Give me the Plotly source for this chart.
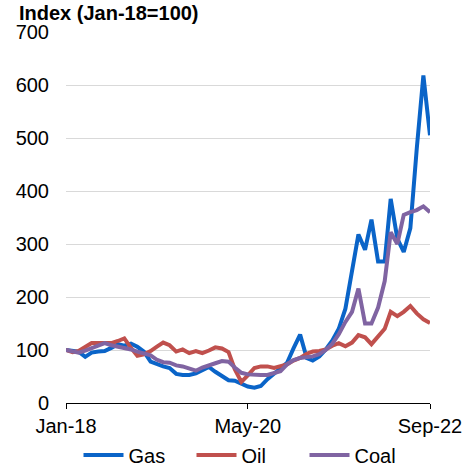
import pandas as pd
import plotly.graph_objects as go

months = pd.date_range("2018-01-01", "2022-09-01", freq="MS")

gas = [100, 98, 97, 87, 95, 97, 98, 104, 111, 108, 112, 106, 97, 78, 73, 69, 66, 55,
       53, 53, 56, 62, 68, 59, 51, 43, 42, 36, 31, 29, 32, 45, 56, 67, 76, 103, 129,
       85, 80, 88, 101, 118, 140, 178, 255, 318, 289, 346, 267, 267, 385, 310, 285,
       330, 480, 618, 505]
oil = [100, 96, 98, 106, 113, 113, 113, 113, 117, 122, 104, 89, 92, 98, 106, 114, 109,
       97, 101, 94, 98, 94, 99, 105, 103, 96, 64, 40, 52, 66, 69, 69, 66, 69, 73, 80,
       85, 93, 97, 98, 101, 108, 113, 107, 114, 128, 124, 111, 127, 140, 172, 164, 172,
       183, 169, 158, 151]
coal = [100, 97, 95, 99, 104, 109, 113, 109, 106, 105, 101, 97, 94, 90, 82, 77, 76, 71,
        69, 64, 61, 67, 72, 75, 79, 78, 67, 57, 54, 53, 53, 53, 56, 60, 73, 81, 85, 87,
        88, 92, 100, 112, 130, 153, 172, 216, 150, 150, 180, 230, 322, 300, 355, 360,
        364, 371, 360]

series_names = ["Gas", "Oil", "Coal"]
series_colors = ["#0A64C8", "#C0504D", "#8064A2"]
tick_dates = ["2018-01-01", "2020-05-01", "2022-09-01"]
tick_labels = ["Jan-18", "May-20", "Sep-22"]
y_ticks = [0, 100, 200, 300, 400, 500, 600, 700]

fig = go.Figure()
for name, vals, col in zip(series_names, [gas, oil, coal], series_colors):
    fig.add_trace(go.Scatter(x=months, y=vals, mode="lines", name=name,
                             line=dict(color=col, width=4)))

font_family = "Liberation Sans, Arial, sans-serif"
fig.update_layout(
    width=465, height=468,
    margin=dict(l=66, r=35, t=32, b=65),
    paper_bgcolor="white", plot_bgcolor="white",
    font=dict(family=font_family, size=20, color="black"),
    showlegend=True,
    legend=dict(orientation="h", x=0.5, xanchor="center", xref="paper",
                yref="container", y=13/468, yanchor="middle",
                font=dict(size=20), itemwidth=40, entrywidth=58, entrywidthmode="pixels",
                bgcolor="rgba(0,0,0,0)", borderwidth=0, tracegroupgap=0),
    xaxis=dict(range=[months[0], months[-1]], tickvals=tick_dates, ticktext=tick_labels,
               showgrid=False, showline=True, linecolor="black", linewidth=1.2,
               ticks="outside", ticklen=5, tickcolor="black", tickwidth=1.2,
               tickfont=dict(size=20), zeroline=False, automargin=False),
    yaxis=dict(range=[0, 700], tickvals=y_ticks, showgrid=True, gridcolor="#D9D9D9",
               gridwidth=1, zeroline=False, showline=False, ticks="",
               tickfont=dict(size=20), ticklabelstandoff=16, automargin=False),
    annotations=[dict(text="<b>Index (Jan-18=100)</b>", xref="paper", yref="paper",
                      x=-49/364, y=1, xanchor="left", yanchor="middle", yshift=19,
                      showarrow=False, font=dict(size=20, family=font_family))],
)

fig.write_html("out.html", config={"displayModeBar": False},
               post_script="document.body.style.margin='0';document.body.style.padding='0';")
